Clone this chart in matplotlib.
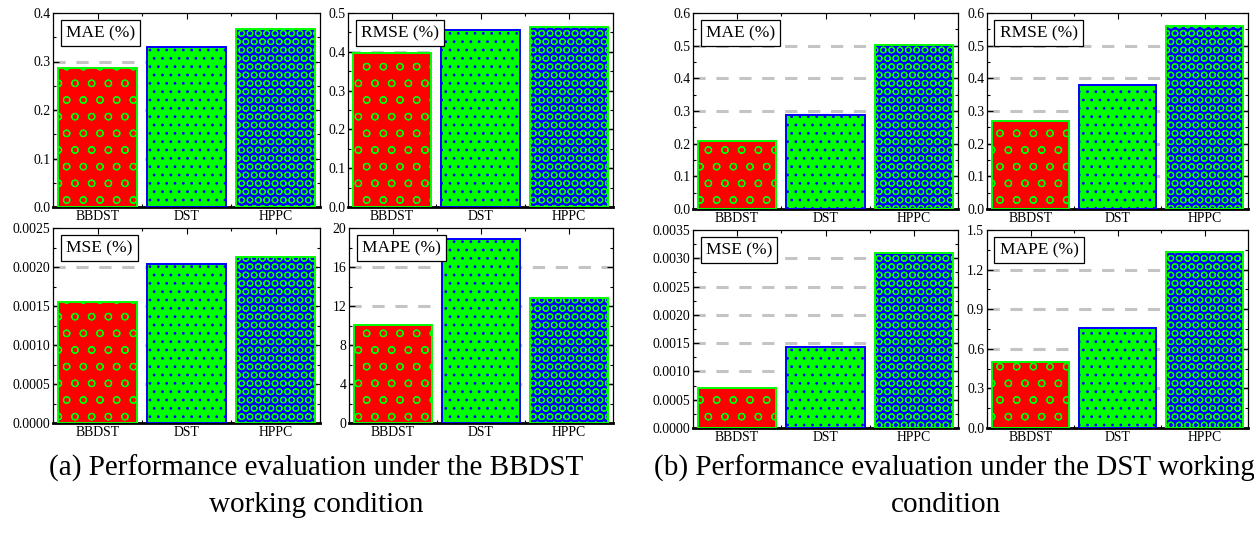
import matplotlib.pyplot as plt
from matplotlib.ticker import MultipleLocator, FormatStrFormatter, FixedLocator

plt.rcParams["font.family"] = ["Liberation Serif", "DejaVu Serif"]
plt.rcParams["hatch.linewidth"] = 0.8

W, H = 1254, 533

categories = ["BBDST", "DST", "HPPC"]

# (a) BBDST working condition
a_mae = [0.287, 0.329, 0.368]
a_rmse = [0.397, 0.455, 0.464]
a_mse = [0.00155, 0.00204, 0.00213]
a_mape = [10.1, 18.84, 12.82]

# (b) DST working condition
b_mae = [0.208, 0.288, 0.503]
b_rmse = [0.268, 0.381, 0.559]
b_mse = [0.000714, 0.001434, 0.0031]
b_mape = [0.503, 0.754, 1.331]

fills = ["#ff0000", "#00ff00", "#0000ff"]
edges = ["#00ff00", "#0000ff", "#00ff00"]
hatches = ["o", "..", "OO"]


def add_ax(fig, left, right, top, bottom):
    return fig.add_axes([left / W, 1 - bottom / H, (right - left) / W, (bottom - top) / H])


def draw(ax, values, label, ymax, step, fmt):
    x = range(len(categories))
    bars = ax.bar(x, values, width=0.89, color=fills, edgecolor=edges,
                  linewidth=1.4, zorder=3)
    for b, h in zip(bars, hatches):
        b.set_hatch(h)
    ax.set_xlim(-0.5, 2.5)
    ax.set_ylim(0, ymax)
    ax.yaxis.set_major_locator(MultipleLocator(step))
    ax.yaxis.set_minor_locator(MultipleLocator(step / 2))
    ax.yaxis.set_major_formatter(FormatStrFormatter(fmt))
    ax.set_xticks(list(x))
    ax.set_xticklabels(categories)
    ax.xaxis.set_minor_locator(FixedLocator([0.5, 1.5]))
    ax.tick_params(which="both", direction="in", top=True, right=True,
                   labelsize=9.9, pad=2)
    ax.tick_params(which="major", length=4, width=0.8)
    ax.tick_params(which="minor", length=2, width=0.8)
    n = int(round(ymax / step))
    for k in range(1, n):
        ax.axhline(k * step, color="#c4c4c4", lw=2.2, ls=(0, (4, 3.5)), zorder=1)
    for s in ["left", "right", "top"]:
        ax.spines[s].set_linewidth(0.9)
    ax.spines["bottom"].set_linewidth(2)
    ax.text(13 / 267, 1 - 12 / 195, label, transform=ax.transAxes, ha="left", va="top",
            fontsize=12.5, zorder=5,
            bbox=dict(boxstyle="square,pad=0.3", fc="white", ec="black", lw=0.9))


fig = plt.figure(figsize=(W / 100, H / 100), dpi=100)

draw(add_ax(fig, 53, 320, 13, 207), a_mae, "MAE (%)", 0.4, 0.1, "%.1f")
draw(add_ax(fig, 348, 613, 13, 207), a_rmse, "RMSE (%)", 0.5, 0.1, "%.1f")
draw(add_ax(fig, 53, 320, 228, 423), a_mse, "MSE (%)", 0.0025, 0.0005, "%.4f")
draw(add_ax(fig, 349, 613, 228, 423), a_mape, "MAPE (%)", 20, 4, "%d")

draw(add_ax(fig, 693, 958, 13, 209), b_mae, "MAE (%)", 0.6, 0.1, "%.1f")
draw(add_ax(fig, 987, 1248, 13, 209), b_rmse, "RMSE (%)", 0.6, 0.1, "%.1f")
draw(add_ax(fig, 693, 958, 230, 428), b_mse, "MSE (%)", 0.0035, 0.0005, "%.4f")
draw(add_ax(fig, 987, 1248, 230, 428), b_mape, "MAPE (%)", 1.5, 0.3, "%.1f")

fig.text(316 / W, 1 - 468 / H, "(a) Performance evaluation under the BBDST",
         ha="center", va="center", fontsize=21)
fig.text(316 / W, 1 - 505 / H, "working condition", ha="center", va="center", fontsize=21)
fig.text(954 / W, 1 - 468 / H, "(b) Performance evaluation under the DST working",
         ha="center", va="center", fontsize=21)
fig.text(946 / W, 1 - 505 / H, "condition", ha="center", va="center", fontsize=21)

fig.savefig("out.png", dpi=100)
